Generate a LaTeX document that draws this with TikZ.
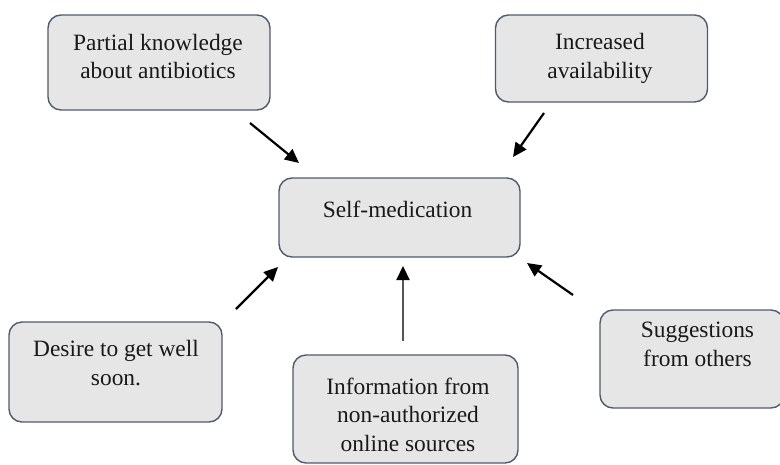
\documentclass[tikz,border=0pt]{standalone}
\usepackage{fontspec}
\setmainfont{Liberation Serif}
\usetikzlibrary{arrows.meta}
\definecolor{boxfill}{HTML}{E6E6E6}
\definecolor{boxline}{HTML}{4F5B6E}
\definecolor{greyarrow}{HTML}{555555}
\tikzset{
  boxst/.style={draw=boxline, fill=boxfill, line width=1.4pt, rounded corners=13pt, inner sep=0pt},
  txt/.style={inner sep=0pt, align=center, font=\fontsize{23.4}{28.5}\selectfont, text=black!90},
  arr/.style={line width=2.2pt, -{Triangle[length=14pt,width=13pt]}},
  greyarr/.style={line width=2.2pt, draw=greyarrow, -{Triangle[length=14pt,width=13pt,color=black]}},
}
\begin{document}
\begin{tikzpicture}[x=1pt,y=-1pt]
\useasboundingbox (0,0) rectangle (780,464);
% boxes
\node[boxst, minimum width=222pt, minimum height=95pt] (b1) at (159,62.5) {};
\node[boxst, minimum width=212pt, minimum height=87pt] (b2) at (601.5,58.5) {};
\node[boxst, minimum width=241pt, minimum height=79pt] (b3) at (399.5,217.5) {};
\node[boxst, minimum width=213pt, minimum height=100pt] (b4) at (115.5,372) {};
\node[boxst, minimum width=225pt, minimum height=108pt] (b5) at (405.5,409) {};
\node[boxst, minimum width=184pt, minimum height=98pt] (b6) at (692,359) {};
% texts (anchor base = baseline of last line)
\node[txt, anchor=base] (t1) at (158,78.5) {Partial knowledge\\about antibiotics};
\node[txt, anchor=base] (t2) at (600,78) {Increased\\availability};
\node[txt, anchor=base] (t3) at (397.5,217) {Self-medication};
\node[txt, anchor=base] (t4) at (116,385) {Desire to get well\\soon.};
\node[txt, anchor=base] (t5) at (408,451) {Information from\\non-authorized\\online sources};
\node[txt, anchor=base] (t6) at (697.5,366) {Suggestions\\from others};
% arrow end points
\coordinate (a1s) at (250,123);
\coordinate (a1e) at (299,163);
\coordinate (a2s) at (544,113);
\coordinate (a2e) at (513,157);
\coordinate (a3s) at (236,309);
\coordinate (a3e) at (278,267);
\coordinate (a4s) at (403,341);
\coordinate (a4e) at (403,266);
\coordinate (a5s) at (573,295);
\coordinate (a5e) at (527,263);
\draw[arr] (a1s) -- (a1e);
\draw[arr] (a2s) -- (a2e);
\draw[arr] (a3s) -- (a3e);
\draw[greyarr] (a4s) -- (a4e);
\draw[arr] (a5s) -- (a5e);
\end{tikzpicture}
\end{document}
